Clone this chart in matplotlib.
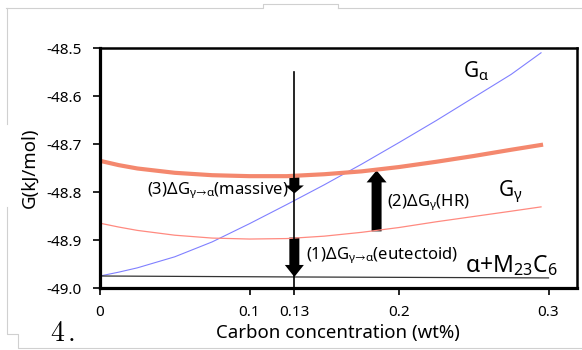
import matplotlib
matplotlib.use("Agg")
import matplotlib.pyplot as plt
from matplotlib.lines import Line2D
from matplotlib.patches import FancyArrow

plt.rcParams['font.family'] = ['Noto Sans', 'DejaVu Sans']
plt.rcParams['mathtext.fontset'] = 'custom'
plt.rcParams['mathtext.rm'] = 'Noto Sans'
plt.rcParams['mathtext.it'] = 'Noto Sans'

# curves
x_gr = [0, 0.0125, 0.025, 0.05, 0.075, 0.1, 0.125, 0.15, 0.175, 0.2, 0.225, 0.25, 0.275, 0.295]
g_hr = [-48.735, -48.744, -48.751, -48.760, -48.765, -48.767, -48.767, -48.763, -48.757,
        -48.748, -48.737, -48.725, -48.712, -48.702]
g_gamma = [-48.865, -48.873, -48.880, -48.890, -48.896, -48.898, -48.897, -48.892, -48.884,
           -48.874, -48.862, -48.851, -48.840, -48.831]
g_alpha = [-48.975, -48.967, -48.958, -48.935, -48.904, -48.866, -48.826, -48.785, -48.742,
           -48.697, -48.651, -48.603, -48.555, -48.51]
x_mix = [0, 0.13, 0.30]
g_mix = [-48.975, -48.977, -48.979]

x_ticks = [0, 0.1, 0.13, 0.2, 0.3]
x_ticklabels = ['0', '0.1', '0.13', '0.2', '0.3']
y_ticks = [-49.0, -48.9, -48.8, -48.7, -48.6, -48.5]

x_line = 0.13
arrows = [  # x, y start, y end
    (0.13, -48.769, -48.803),   # (3) massive
    (0.13, -48.895, -48.977),   # (1) eutectoid
    (0.185, -48.882, -48.755),  # (2) HR
]

fig = plt.figure(figsize=(5.82, 3.5), dpi=100)
ax = fig.add_axes([100/582, 1-288/350, 477/582, 240/350])

ax.plot(x_gr, g_alpha, color='#8080ff', lw=0.8)
ax.plot(x_gr, g_gamma, color='#ff8a80', lw=0.9)
ax.plot(x_mix, g_mix, color='#333333', lw=0.9)
ax.plot(x_gr, g_hr, color='#f4886e', lw=3.0)
ax.plot([x_line, x_line], [-48.551, -49.0], color='black', lw=1.2)

px = 1 / 1495  # data x per pixel
py = 0.1 / 48  # data y per pixel
for xa, y0, y1 in arrows:
    dy = y1 - y0
    hl = (8 if abs(dy) < 0.05 else 12) * py
    hw = (19 if abs(dy) < 0.1 else 20) * px
    ax.add_patch(FancyArrow(xa, y0, 0, dy, width=10*px, head_width=hw,
                            head_length=hl, length_includes_head=True,
                            color='black', lw=0))

ax.set_xlim(0, 477/1495)
ax.set_ylim(-49.0, -48.5)
ax.set_xticks(x_ticks)
ax.set_xticklabels(x_ticklabels)
ax.set_yticks(y_ticks)
ax.set_yticklabels([f'{v:.1f}' for v in y_ticks])
ax.tick_params(axis='both', labelsize=11, direction='out', width=1.2, color='black')
ax.tick_params(axis='x', length=5, pad=7)
ax.tick_params(axis='y', length=5, pad=8)
for s in ax.spines.values():
    s.set_linewidth(1.8)
ax.spines['left'].set_linewidth(2.3)
ax.spines['bottom'].set_linewidth(2.3)

# axis titles
fig.text(338/582, 1-333/350, 'Carbon concentration (wt%)', fontsize=13.4,
         ha='center', va='center')
fig.text(30/582, 1-168/350, 'G(kJ/mol)', fontsize=13.4, rotation=90,
         ha='center', va='center')

ax.text(0.243, -48.548, r'G$_{\mathregular{α}}$', fontsize=15, va='center')
ax.text(0.266, -48.800, r'G$_{\mathregular{γ}}$', fontsize=15, va='center')
ax.text(0.244, -48.953, r'α+M$_{\mathregular{23}}$C$_{\mathregular{6}}$', fontsize=16.5, va='center')
ax.text(0.192, -48.821, r'(2)ΔG$_{\mathregular{γ}}$(HR)', fontsize=12, va='center')
ax.text(0.138, -48.931, r'(1)ΔG$_{\mathregular{γ→α}}$(eutectoid)', fontsize=12, va='center')
ax.text(0.126, -48.796, r'(3)ΔG$_{\mathregular{γ→α}}$(massive)', fontsize=12,
        va='center', ha='right')

fig.text(50/582, 1-334/350, r'$4\,.$', fontsize=20, va='center', math_fontfamily='cm')

# faint frame lines from the page around the figure
def fl(xs, ys):
    fig.add_artist(Line2D([v/582 for v in xs], [1-v/350 for v in ys],
                          transform=fig.transFigure, color='#d0d0d0', lw=0.8))

fl([6, 263, 263, 338, 338], [8, 8, 4, 4, 8])
fl([338, 582], [8, 8])
fl([7, 7], [8, 124])
fl([7, 7, 18, 18, 582], [207, 334, 334, 348, 348])

fig.savefig('out.png', dpi=100)
